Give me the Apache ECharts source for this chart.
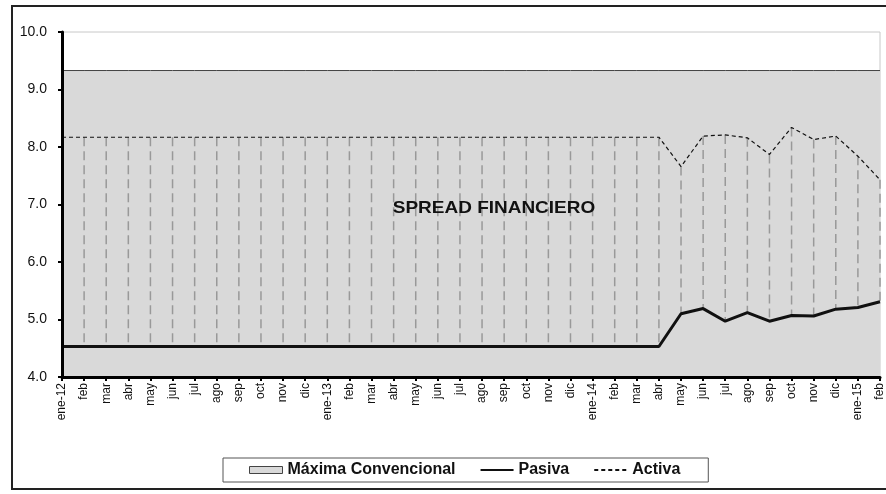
<!DOCTYPE html>
<html>
<head>
<meta charset="utf-8">
<script src="https://cdn.jsdelivr.net/npm/echarts@6/dist/echarts.min.js"></script>
<style>
html,body{margin:0;padding:0;background:#fff;}
#chart{width:886px;height:494px;}
</style>
</head>
<body>
<div id="chart"></div>
<script>
var categories = ["ene-12","feb","mar","abr","may","jun","jul","ago","sep","oct","nov","dic",
  "ene-13","feb","mar","abr","may","jun","jul","ago","sep","oct","nov","dic",
  "ene-14","feb","mar","abr","may","jun","jul","ago","sep","oct","nov","dic",
  "ene-15","feb"];
var maximaConvencional = [9.33,9.33,9.33,9.33,9.33,9.33,9.33,9.33,9.33,9.33,9.33,9.33,
  9.33,9.33,9.33,9.33,9.33,9.33,9.33,9.33,9.33,9.33,9.33,9.33,
  9.33,9.33,9.33,9.33,9.33,9.33,9.33,9.33,9.33,9.33,9.33,9.33,
  9.33,9.33];
var activa = [8.17,8.17,8.17,8.17,8.17,8.17,8.17,8.17,8.17,8.17,8.17,8.17,
  8.17,8.17,8.17,8.17,8.17,8.17,8.17,8.17,8.17,8.17,8.17,8.17,
  8.17,8.17,8.17,8.17,7.66,8.19,8.21,8.16,7.87,8.34,8.13,8.19,
  7.84,7.43];
var pasiva = [4.53,4.53,4.53,4.53,4.53,4.53,4.53,4.53,4.53,4.53,4.53,4.53,
  4.53,4.53,4.53,4.53,4.53,4.53,4.53,4.53,4.53,4.53,4.53,4.53,
  4.53,4.53,4.53,4.53,5.10,5.19,4.97,5.12,4.97,5.07,5.06,5.18,
  5.21,5.31];
var yTicks = [4,5,6,7,8,9,10];

var FONT = "'Liberation Sans', Arial, sans-serif";
var hiLow = categories.map(function(c,i){ return [i, activa[i], pasiva[i]]; });

var chart = echarts.init(document.getElementById('chart'));
chart.setOption({
  animation: false,
  backgroundColor: '#fff',
  graphic: [{
    type: 'rect', silent: true, z: 100,
    shape: {x: 12, y: 6, width: 890, height: 483},
    style: {fill: 'none', stroke: '#222', lineWidth: 2}
  }, {
    type: 'text', silent: true, z: 100,
    x: 494, y: 208, scaleX: 1.15, originX: 0,
    style: {text: 'SPREAD FINANCIERO', fontFamily: FONT, fontSize: 16.5, fontWeight: 'bold',
      fill: '#111', align: 'center', verticalAlign: 'middle'}
  }],
  grid: {
    left: 62, right: 4, top: 32, bottom: 117,
    show: true, borderColor: '#c8c8c8', borderWidth: 1, backgroundColor: 'transparent'
  },
  legend: {
    left: 223, top: 458,
    padding: [4, 28, 4, 26],
    itemGap: 24,
    itemWidth: 33, itemHeight: 7,
    borderColor: '#555', borderWidth: 1,
    textStyle: {fontFamily: FONT, fontSize: 16, fontWeight: 'bold', color: '#111'},
    data: [
      {name: 'Máxima Convencional', icon: 'rect', itemStyle: {color: '#d9d9d9', borderColor: '#444', borderWidth: 1}},
      {name: 'Pasiva', itemStyle: {opacity: 0}},
      {name: 'Activa', itemStyle: {opacity: 0}}
    ]
  },
  xAxis: {
    type: 'category',
    data: categories,
    boundaryGap: false,
    z: 10,
    axisLine: {lineStyle: {color: '#000', width: 3}},
    axisTick: {show: true, length: 4, lineStyle: {color: '#000', width: 2}},
    axisLabel: {rotate: 90, interval: 0, fontFamily: FONT, fontSize: 12, color: '#111', margin: 6},
    splitLine: {show: false}
  },
  yAxis: {
    type: 'value',
    min: yTicks[0], max: yTicks[yTicks.length-1], interval: 1,
    z: 10,
    axisLine: {show: true, lineStyle: {color: '#000', width: 3}},
    axisTick: {show: true, length: 4, lineStyle: {color: '#000', width: 2}},
    axisLabel: {fontFamily: FONT, fontSize: 14, color: '#111', margin: 15,
      formatter: function(v){ return v.toFixed(1); }},
    splitLine: {show: false}
  },
  series: [
    {
      name: 'Máxima Convencional', type: 'line', data: maximaConvencional,
      symbol: 'none', z: 1,
      lineStyle: {color: '#444', width: 1},
      itemStyle: {color: '#d9d9d9'},
      areaStyle: {color: '#d9d9d9', opacity: 1, origin: 'start'}
    },
    {
      name: 'HiLow', type: 'custom', data: hiLow, z: 2, silent: true,
      renderItem: function(params, api){
        var p1 = api.coord([api.value(0), api.value(1)]);
        var p2 = api.coord([api.value(0), api.value(2)]);
        return {type: 'line', shape: {x1: p1[0], y1: p1[1], x2: p2[0], y2: p2[1]},
          style: {stroke: '#999', lineWidth: 1.5, lineDash: [9, 5]}};
      }
    },
    {
      name: 'Pasiva', type: 'line', data: pasiva, symbol: 'none', z: 3,
      lineStyle: {color: '#111', width: 3}, itemStyle: {color: '#111'}
    },
    {
      name: 'Activa', type: 'line', data: activa, symbol: 'none', z: 4,
      lineStyle: {color: '#111', width: 1.2, type: [4, 3]}, itemStyle: {color: '#111'}
    }
  ]
});
</script>
</body>
</html>
